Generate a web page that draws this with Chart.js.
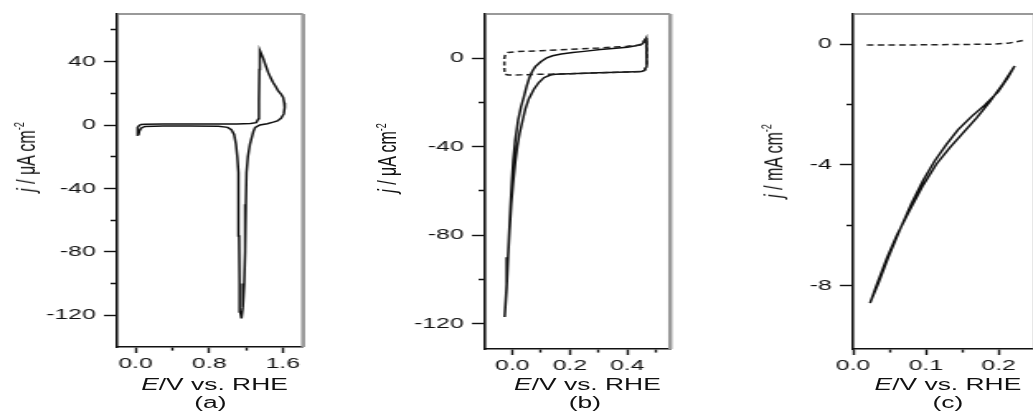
<!DOCTYPE html>
<html>
<head>
<meta charset="utf-8">
<script src="https://cdn.jsdelivr.net/npm/chart.js@4.4.1/dist/chart.umd.min.js"></script>
<style>
html, body { margin: 0; padding: 0; background: #fff; overflow: hidden; }
#stage {
    position: absolute; left: 0; top: 0; width: 626px; height: 418px;
    transform: scaleX(1.65); transform-origin: 0 0;
    font-family: "Liberation Sans", Arial, sans-serif; color: #111;
}
#stage canvas { position: absolute; top: 0; }
.lbl { position: absolute; font-size: 16px; line-height: 18px; white-space: nowrap; transform: translateX(-50%); }
.ytitle { position: absolute; font-size: 16px; line-height: 18px; white-space: nowrap; transform: translate(-50%, -50%) rotate(-90deg); }
sup { font-size: 9px; line-height: 0; }
</style>
</head>
<body>
<div id="stage">
    <canvas id="chartA" width="170" height="418" style="left:20.9px"></canvas>
    <canvas id="chartB" width="170" height="418" style="left:243.9px"></canvas>
    <canvas id="chartC" width="170" height="418" style="left:467px"></canvas>

    <div class="ytitle" style="left:15.8px; top:157px"><i>j</i> / μA cm<sup>-2</sup></div>
    <div class="ytitle" style="left:235px; top:158px"><i>j</i> / μA cm<sup>-2</sup></div>
    <div class="ytitle" style="left:468.6px; top:161px"><i>j</i> / mA cm<sup>-2</sup></div>

    <div class="lbl" style="left:130px; top:376px"><i>E</i>/V vs. RHE</div>
    <div class="lbl" style="left:127.5px; top:394px">(a)</div>
    <div class="lbl" style="left:356px; top:376px"><i>E</i>/V vs. RHE</div>
    <div class="lbl" style="left:354.5px; top:394px">(b)</div>
    <div class="lbl" style="left:574.5px; top:376px"><i>E</i>/V vs. RHE</div>
    <div class="lbl" style="left:574.5px; top:394px">(c)</div>
</div>
<script>
// ---- panel (a): E in V, j in uA/cm2
const aE = [0.03, 0.02, 0.025, 0.04, 0.06, 0.1, 0.3, 0.6, 0.9, 1.1, 1.25, 1.31, 1.335, 1.34, 1.345, 1.35,
    1.365, 1.387, 1.41, 1.441, 1.47, 1.495, 1.52, 1.549, 1.58, 1.603, 1.615, 1.62,
    1.61, 1.58, 1.54, 1.495, 1.43, 1.35, 1.3, 1.28, 1.243, 1.22, 1.205, 1.198, 1.19, 1.18, 1.165, 1.15,
    1.138, 1.13, 1.125, 1.12, 1.115, 1.105, 1.09, 1.07, 1.04, 1.0, 0.9, 0.6, 0.3, 0.1, 0.06, 0.04, 0.03];
const aJ = [-6.5, -4, -1.5, -0.3, 0.3, 0.5, 0.6, 0.6, 0.6, 0.7, 0.9, 1.5, 4, 15, 35, 47,
    45, 42, 38, 33, 29.5, 26.7, 24.5, 21.5, 19.5, 17.4, 14, 11,
    7, 4.2, 2.6, 1.8, 0.8, 0, -1.5, -4, -12, -20, -30, -50, -80, -100, -115, -122,
    -118, -100, -70, -45, -30, -20, -12, -6, -3, -1.5, -0.8, -0.6, -0.6, -0.9, -2, -4, -6.5];
const aTicksX = [0.0, 0.8, 1.6], aMinorX = [0.4, 1.2];
const aTicksY = [-120, -80, -40, 0, 40], aMinorY = [-100, -60, -20, 20, 60];

// ---- panel (b): solid and dashed CVs
const bE = [-0.027, -0.022, -0.017, -0.012, -0.007, -0.002, 0.003, 0.01, 0.02, 0.03, 0.04, 0.05, 0.06, 0.07, 0.08,
    0.1, 0.12, 0.14, 0.17, 0.21, 0.25, 0.306, 0.35, 0.4, 0.43, 0.45, 0.46, 0.466,
    0.468, 0.468, 0.46, 0.45, 0.4, 0.3, 0.2, 0.15, 0.132, 0.11, 0.092, 0.075, 0.057, 0.045, 0.035, 0.025,
    0.017, 0.01, 0.003, -0.004, -0.01, -0.015, -0.02, -0.027];
const bJ = [-117, -107, -95, -81, -68, -56, -46, -37, -28, -22, -17.5, -12.5, -8.5, -5.8, -3.8,
    -1.5, 0.2, 1.1, 1.9, 2.6, 3.1, 3.9, 4.4, 5.0, 5.6, 6.3, 7.5, 9,
    4, -3.6, -5.5, -6.0, -6.2, -6.6, -7.0, -7.3, -7.6, -8.8, -11, -14, -18.4, -23, -28.5, -34,
    -40, -47, -56, -66, -78, -90, -104, -117];
const bDashE = [0.466, 0.445, 0.4, 0.3, 0.2, 0.1, 0.02, -0.015, -0.025, -0.028, -0.028, -0.026, -0.015,
    0.03, 0.08, 0.13, 0.2, 0.3, 0.4, 0.45, 0.46, 0.468, 0.468, 0.466];
const bDashJ = [9, 6, 5.4, 4.6, 4.0, 3.4, 3.0, 2.6, 1.5, 0, -5, -7.2, -7.6,
    -7.5, -7.3, -7.2, -7.0, -6.6, -6.2, -6.0, -5.5, -3.6, 4, 9];
const bTicksX = [0.0, 0.2, 0.4], bMinorX = [0.1, 0.3, 0.5];
const bTicksY = [-120, -80, -40, 0], bMinorY = [-100, -60, -20];

// ---- panel (c): j in mA/cm2
const cE = [0.0233, 0.0324, 0.0461, 0.0598, 0.0781, 0.0963, 0.1146, 0.1329, 0.1511, 0.1694, 0.1877, 0.2059, 0.2219,
    0.2128, 0.1991, 0.1808, 0.1626, 0.1443, 0.1283, 0.1123, 0.0963, 0.0804, 0.0644, 0.0484, 0.0347, 0.0233];
const cJ = [-8.58, -7.98, -7.11, -6.35, -5.49, -4.67, -3.97, -3.43, -2.94, -2.45, -1.91, -1.31, -0.72,
    -1.10, -1.58, -2.02, -2.40, -2.83, -3.32, -3.86, -4.51, -5.27, -6.14, -7.06, -7.92, -8.58];
const cDashE = [0.019, 0.06, 0.1, 0.15, 0.19, 0.215, 0.233];
const cDashJ = [-0.03, -0.03, -0.02, -0.01, 0.0, 0.04, 0.12];
const cTicksX = [0.0, 0.1, 0.2], cMinorX = [0.05, 0.15];
const cTicksY = [-8, -4, 0], cMinorY = [-6, -2];

function pts(xs, ys) {
    return xs.map((x, i) => ({x: x, y: ys[i]}));
}

function has(list, v) {
    return list.some(m => Math.abs(m - v) < 1e-9);
}

// top + right edges of the box in grey
const frame = {
    id: "frame",
    afterDraw(chart) {
        const {ctx, chartArea: a} = chart;
        ctx.save();
        ctx.strokeStyle = "#777";
        ctx.lineWidth = 1.6;
        ctx.beginPath();
        ctx.moveTo(a.left, a.top);
        ctx.lineTo(a.right, a.top);
        ctx.stroke();
        ctx.strokeStyle = "#999";
        ctx.lineWidth = 2.5;
        ctx.beginPath();
        ctx.moveTo(a.right, a.top);
        ctx.lineTo(a.right, a.bottom);
        ctx.stroke();
        ctx.restore();
    }
};

const tickFont = {family: "'Liberation Sans', Arial, sans-serif", size: 15};

function makePanel(id, datasets, xr, yr, xMaj, xMin, yMaj, yMin, padR, padB, fx, fy) {
    new Chart(document.getElementById(id), {
        type: "scatter",
        data: {datasets: datasets},
        options: {
            responsive: false,
            animation: false,
            layout: {padding: {top: 7, right: padR, bottom: padB, left: 0}},
            plugins: {legend: {display: false}, tooltip: {enabled: false}},
            elements: {point: {radius: 0}},
            scales: {
                x: {
                    type: "linear", min: xr[0], max: xr[1],
                    afterFit: s => { s.height = 30; },
                    afterBuildTicks: s => { s.ticks = xMaj.concat(xMin).sort((p, q) => p - q).map(v => ({value: v})); },
                    border: {color: "#111", width: 1.6},
                    grid: {
                        drawOnChartArea: false, tickLength: 6, tickColor: "#111", tickWidth: 1.4,
                        tickBorderDash: c => (c.tick && !has(xMaj, c.tick.value)) ? [3, 100] : []
                    },
                    ticks: {font: tickFont, color: "#111", padding: 2, maxRotation: 0, autoSkip: false,
                        callback: v => has(xMaj, v) ? fx(v) : ""}
                },
                y: {
                    type: "linear", min: yr[0], max: yr[1],
                    afterFit: s => { s.width = 50; },
                    afterBuildTicks: s => { s.ticks = yMaj.concat(yMin).sort((p, q) => p - q).map(v => ({value: v})); },
                    border: {color: "#111", width: 1.6},
                    grid: {
                        drawOnChartArea: false, tickLength: 8, tickColor: "#111", tickWidth: 1.4,
                        tickBorderDash: c => (c.tick && !has(yMaj, c.tick.value)) ? [0, 4, 4, 100] : []
                    },
                    ticks: {font: tickFont, color: "#111", padding: 5, autoSkip: false,
                        callback: v => has(yMaj, v) ? fy(v) : ""}
                }
            }
        },
        plugins: [frame]
    });
}

const solid = (d) => ({data: d, showLine: true, borderColor: "#111", borderWidth: 1.5, pointRadius: 0, tension: 0});
const dashed = (d) => ({data: d, showLine: true, borderColor: "#222", borderWidth: 1.5, pointRadius: 0, tension: 0, borderDash: [4, 2.5]});

makePanel("chartA", [solid(pts(aE, aJ))], [-0.2, 1.82], [-140, 70],
    aTicksX, aMinorX, aTicksY, aMinorY, 7.3, 41, v => v.toFixed(1), v => String(v));

makePanel("chartB", [dashed(pts(bDashE, bDashJ)), solid(pts(bE, bJ))], [-0.095, 0.55], [-131.5, 20],
    bTicksX, bMinorX, bTicksY, bMinorY, 7.8, 39, v => v.toFixed(1), v => String(v));

makePanel("chartC", [dashed(pts(cDashE, cDashJ)), solid(pts(cE, cJ))], [0, 0.25], [-10.1, 1.0],
    cTicksX, cMinorX, cTicksY, cMinorY, 9.7, 39, v => v.toFixed(1), v => String(v));
</script>
</body>
</html>
